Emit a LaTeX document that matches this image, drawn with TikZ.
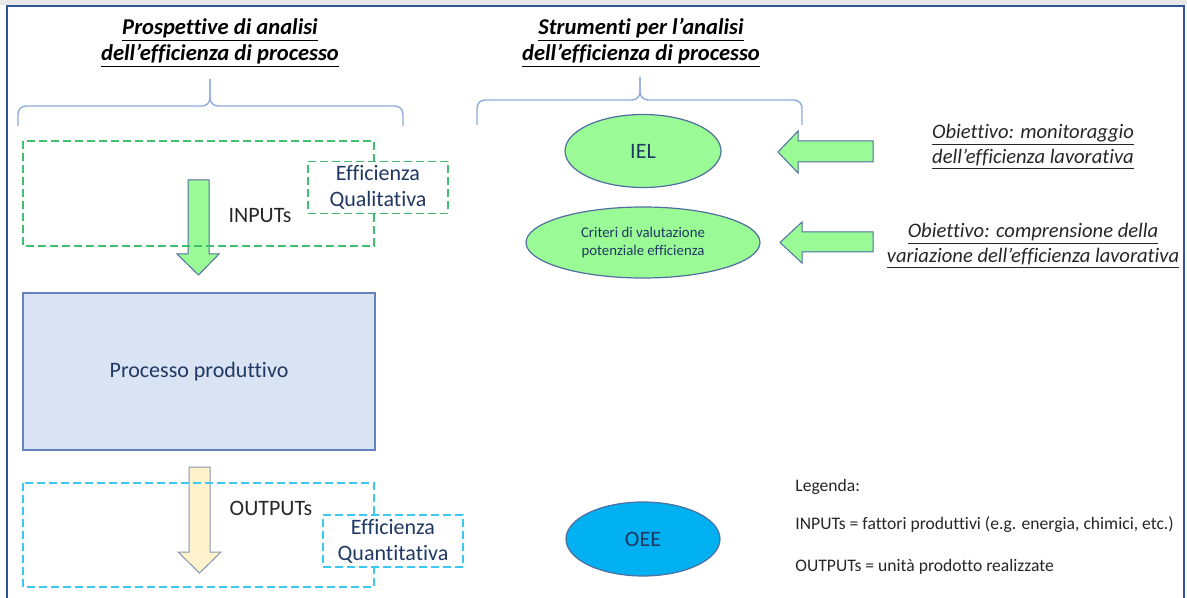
\documentclass[tikz,border=0pt]{standalone}
\usepackage{fontspec}
\setmainfont{Carlito}[RawFeature={-liga;-clig;-dlig}]
\usetikzlibrary{shapes.geometric}
\definecolor{frameblue}{RGB}{47,85,151}
\definecolor{topgray}{RGB}{232,232,232}
\definecolor{bracecol}{RGB}{143,170,220}
\definecolor{gdash}{RGB}{64,190,110}
\definecolor{cdash}{RGB}{60,200,245}
\definecolor{navy}{RGB}{32,56,100}
\definecolor{lgreen}{RGB}{153,250,150}
\definecolor{edgeblue}{RGB}{80,110,160}
\definecolor{procfill}{RGB}{218,227,243}
\definecolor{procedge}{RGB}{100,130,190}
\definecolor{yfill}{RGB}{255,242,204}
\definecolor{yedge}{RGB}{132,151,176}
\definecolor{oeefill}{RGB}{0,176,240}
\definecolor{txtgray}{RGB}{38,38,38}
\tikzset{
  heading/.style={align=center, font=\fontsize{11.3}{13}\selectfont\bfseries\itshape, inner sep=0},
  objtext/.style={align=center, font=\fontsize{10.3}{12.5}\selectfont\itshape, inner sep=0, text=txtgray},
  bracepath/.style={draw=bracecol, line width=0.7pt, rounded corners=4pt},
  gdashed/.style={draw=gdash, line width=0.9pt, dash pattern=on 4pt off 2pt},
  cdashed/.style={draw=cdash, line width=0.9pt, dash pattern=on 4pt off 2pt},
  effbox/.style={fill=white, align=center, text=navy, inner sep=0,
    font=\fontsize{11}{13}\selectfont, minimum width=70pt, minimum height=26pt},
  greenarrow/.style={fill=lgreen, draw=edgeblue, line width=0.5pt},
  yarrow/.style={fill=yfill, draw=yedge, line width=0.5pt},
  ell/.style={ellipse, draw=edgeblue, line width=0.6pt, inner sep=0, align=center, text=navy},
  plain/.style={inner sep=0, text=txtgray, font=\fontsize{11}{13}\selectfont},
  legend/.style={inner sep=0, anchor=west, text=txtgray, font=\fontsize{8.8}{10}\selectfont}
}
\begin{document}
\begin{tikzpicture}[x=0.5pt,y=-0.5pt]
\useasboundingbox (0,0) rectangle (1187,598);
\fill[topgray] (0,0) rectangle (1187,5);
\draw[frameblue, line width=1.3pt] (7,598) -- (7,6) -- (1184,6) -- (1184,598);

% headings
\node[heading] (h1) at (220,43) {\underline{Prospettive di analisi}\\\underline{dell’efficienza di processo}};
\node[heading] (h2) at (641,43) {\underline{Strumenti per l’analisi}\\\underline{dell’efficienza di processo}};

% braces
\draw[bracepath] (18,126) |- (210,106) -- (210,79);
\draw[bracepath] (403,126) |- (210,106) -- (210,79);
\draw[bracepath] (477,125) |- (640,100) -- (640,77);
\draw[bracepath] (802,125) |- (640,100) -- (640,77);

% inputs
\draw[greenarrow] (188,180) -- (209,180) -- (209,254) -- (219,254) -- (198.5,275) -- (177,254) -- (188,254) -- cycle;
\draw[gdashed] (23,141) rectangle (374,246);
\node[effbox, draw=gdash, line width=0.9pt, dash pattern=on 4pt off 2pt] (qual) at (378,187.5) {Efficienza\\Qualitativa};
\node[plain] (inputs) at (260,216) {INPUTs};

% process
\node[fill=procfill, draw=procedge, line width=0.6pt, minimum width=176pt, minimum height=78.5pt,
  text=navy, font=\fontsize{11}{13}\selectfont] (proc) at (199,371.5) {Processo produttivo};

% outputs
\draw[yarrow] (189,467) -- (210,467) -- (210,552) -- (221,552) -- (199.5,573) -- (178,552) -- (189,552) -- cycle;
\draw[cdashed] (23,483) rectangle (374,587);
\node[effbox, draw=cdash, line width=0.9pt, dash pattern=on 4pt off 2pt] (quant) at (393,541) {Efficienza\\Quantitativa};
\node[plain] (outputs) at (271,508) {OUTPUTs};

% right side
\node[ell, fill=lgreen, minimum width=78pt, minimum height=36.5pt, font=\fontsize{11}{13}\selectfont] (iel) at (643,151) {IEL};
\node[ell, fill=lgreen, minimum width=117pt, minimum height=35.5pt, font=\fontsize{7.4}{9}\selectfont] (crit) at (643,242.5) {Criteri di valutazione\\potenziale efficienza};
\node[ell, fill=oeefill, minimum width=77pt, minimum height=37pt, font=\fontsize{11}{13}\selectfont] (oee) at (643,539) {OEE};

\draw[greenarrow] (873,141) -- (798,141) -- (798,131) -- (778,152) -- (798,173) -- (798,162) -- (873,162) -- cycle;
\draw[greenarrow] (873,232) -- (802,232) -- (802,222) -- (780,242.5) -- (802,263) -- (802,252) -- (873,252) -- cycle;

\node[objtext] (obj1) at (1033,147) {\underline{Obiettivo: monitoraggio}\\\underline{dell’efficienza lavorativa}};
\node[objtext] (obj2) at (1033,246) {\underline{Obiettivo: comprensione della}\\\underline{variazione dell’efficienza lavorativa}};

% legend
\node[legend] (leg0) at (795,487) {Legenda:};
\node[legend] (leg1) at (795,525) {INPUTs = fattori produttivi (e.g. energia, chimici, etc.)};
\node[legend] (leg2) at (795,567) {OUTPUTs = unità prodotto realizzate};
\end{tikzpicture}
\end{document}
